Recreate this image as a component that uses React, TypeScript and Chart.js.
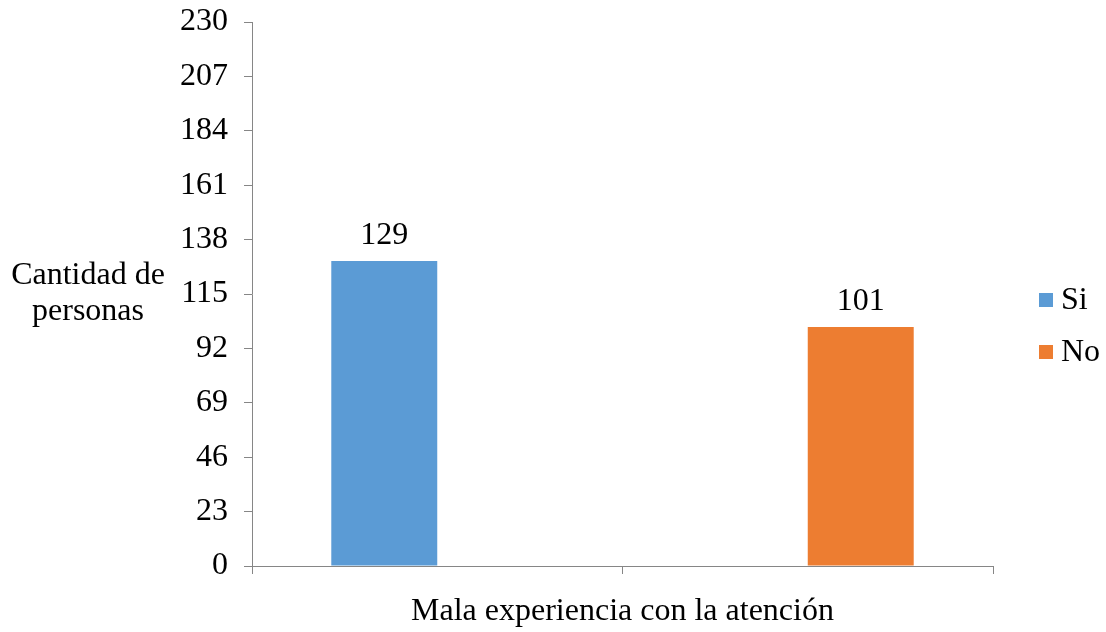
import React, { useEffect, useRef } from "react";
import { Chart, registerables } from "chart.js";

Chart.register(...registerables);

const categories = ["Mala experiencia 1", "Mala experiencia 2"];
const seriesNames = ["Si", "No"];
const siValues = [129, null];
const noValues = [null, 101];
const yTicks = [0, 23, 46, 69, 92, 115, 138, 161, 184, 207, 230];
const xTitle = "Mala experiencia con la atención";
const yTitleLines = ["Cantidad de", "personas"];
const colors = ["#5B9BD5", "#ED7D31"];

const FONT = "'Liberation Serif', 'Times New Roman', serif";
const FS = 32;
const AXIS = "#868686";

export default function App() {
  const ref = useRef<HTMLCanvasElement | null>(null);
  useEffect(() => {
    document.body.style.margin = "0";
    const canvas = ref.current!;
    const overlay = {
      id: "overlay",
      afterDraw(chart: any) {
        const ctx = chart.ctx;
        const area = chart.chartArea;
        ctx.save();
        ctx.fillStyle = "#000";
        ctx.font = `${FS}px ${FONT}`;
        chart.data.datasets.forEach((ds: any, di: number) => {
          const meta = chart.getDatasetMeta(di);
          meta.data.forEach((bar: any, i: number) => {
            const v = ds.data[i];
            if (v == null) return;
            ctx.textAlign = "center";
            ctx.textBaseline = "alphabetic";
            ctx.fillText(String(v), bar.x, bar.y - 17);
          });
        });
        ctx.textAlign = "center";
        ctx.textBaseline = "middle";
        const cy = (area.top + area.bottom) / 2;
        ctx.fillText(yTitleLines[0], 88, cy - 18);
        ctx.fillText(yTitleLines[1], 88, cy + 18);
        ctx.fillText(xTitle, (area.left + area.right) / 2, 612);
        seriesNames.forEach((n, i) => {
          const y = 300 + i * 52;
          ctx.fillStyle = colors[i];
          ctx.fillRect(1039, y - 7, 14, 14);
          ctx.fillStyle = "#000";
          ctx.textAlign = "left";
          ctx.textBaseline = "middle";
          ctx.fillText(n, 1061, y + 1);
        });
        ctx.restore();
      },
    };
    const chart = new Chart(canvas, {
      type: "bar",
      data: {
        labels: categories,
        datasets: [
          { label: seriesNames[0], data: siValues, backgroundColor: colors[0], categoryPercentage: 0.572, barPercentage: 1 },
          { label: seriesNames[1], data: noValues, backgroundColor: colors[1], categoryPercentage: 0.572, barPercentage: 1 },
        ],
      },
      options: {
        animation: false,
        responsive: false,
        layout: { padding: { left: 170, top: 22, right: 113, bottom: 0 } },
        plugins: { legend: { display: false }, tooltip: { enabled: false } },
        scales: {
          x: {
            offset: true,
            grid: { offset: true, drawOnChartArea: false, drawTicks: true, tickLength: 8, color: AXIS },
            border: { color: AXIS, width: 1 },
            ticks: { display: false },
            afterFit: (s: any) => { s.height = 66; s.paddingLeft = 0; s.paddingRight = 0; },
          },
          y: {
            min: 0,
            max: 230,
            afterBuildTicks: (s: any) => { s.ticks = yTicks.map((v) => ({ value: v })); },
            grid: { drawOnChartArea: false, drawTicks: true, tickLength: 8, color: AXIS },
            border: { color: AXIS, width: 1 },
            ticks: { color: "#000", padding: 16, font: { family: FONT, size: FS } },
            afterFit: (s: any) => { s.width = 82; s.paddingTop = 0; s.paddingBottom = 0; },
          },
        },
      },
      plugins: [overlay],
    });
    return () => chart.destroy();
  }, []);
  return (
    <div style={{ width: 1106, height: 632 }}>
      <canvas ref={ref} width={1106} height={632} style={{ display: "block" }} />
    </div>
  );
}
